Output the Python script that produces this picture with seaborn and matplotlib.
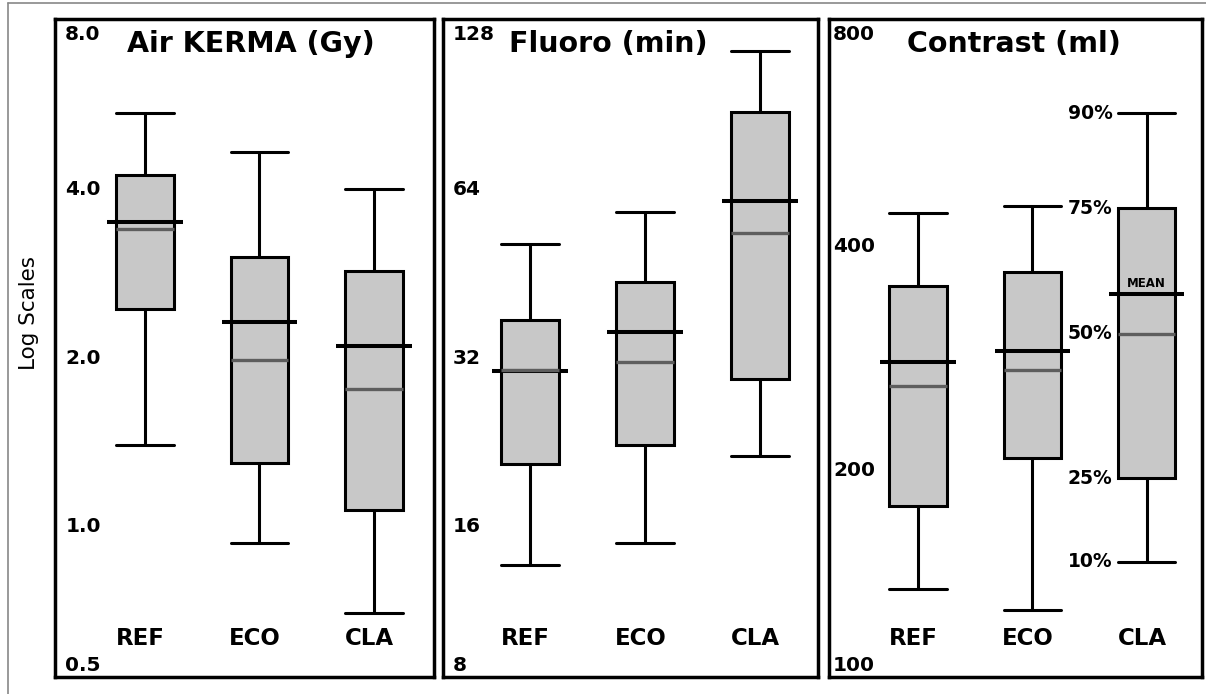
import numpy as np
import pandas as pd
import seaborn as sns
import matplotlib.pyplot as plt
from matplotlib import transforms
from matplotlib.lines import Line2D

# groups shown in every panel
groups = ["REF", "ECO", "CLA"]

# Air KERMA (Gy): 10th pct, 25th, median, 75th, 90th pct, mean
kerma_p10 = [1.40, 0.935, 0.70]
kerma_q1 = [2.45, 1.30, 1.07]
kerma_med = [3.40, 1.99, 1.76]
kerma_q3 = [4.26, 3.03, 2.86]
kerma_p90 = [5.48, 4.68, 4.01]
kerma_mean = [3.50, 2.32, 2.10]

# Fluoro (min)
fluoro_p10 = [13.7, 15.0, 21.4]
fluoro_q1 = [20.7, 22.4, 29.4]
fluoro_med = [30.5, 31.5, 53.6]
fluoro_q3 = [37.5, 43.9, 88.2]
fluoro_p90 = [51.2, 58.4, 113.4]
fluoro_mean = [30.4, 35.7, 61.1]

# Contrast (ml)
contrast_p10 = [139, 130, 151]
contrast_q1 = [179.5, 208, 195.5]
contrast_med = [260, 273, 306]
contrast_q3 = [355, 370, 451]
contrast_p90 = [444, 454, 605]
contrast_mean = [280, 290, 346]

# axis labels written inside each frame
kerma_ticks = [4.0, 2.0, 1.0]
kerma_ticklabels = ["4.0", "2.0", "1.0"]
fluoro_ticks = [64, 32, 16]
fluoro_ticklabels = ["64", "32", "16"]
contrast_ticks = [400, 200]
contrast_ticklabels = ["400", "200"]

pct_labels = ["10%", "25%", "50%", "75%", "90%"]

BOX_FILL = "#c8c8c8"
MEDIAN_GRAY = "#5e5e5e"


def draw_panel(ax, title, p10, q1, med, q3, p90, mean, ticks, ticklabels,
               top_label, bottom_label, ylim, xlim, label_x, title_x):
    # five summary values per group -> whiskers at min/max give 10th/90th pct
    df = pd.DataFrame({
        "group": np.repeat(groups, 5),
        "value": np.column_stack([p10, q1, med, q3, p90]).ravel(),
    })
    sns.boxplot(data=df, x="group", y="value", order=groups, whis=(0, 100),
                width=0.5, color=BOX_FILL, saturation=1, linecolor="black",
                linewidth=2.2, log_scale=2, capwidths=0.5,
                medianprops={"color": MEDIAN_GRAY, "linewidth": 2.4},
                ax=ax)

    # mean lines, a bit wider than the boxes, under the median line
    xs = np.arange(len(groups))
    ax.hlines(mean, xs - 0.33, xs + 0.33, color="black", linewidth=2.9,
              zorder=2.05)

    ax.set_xlim(*xlim)
    ax.set_ylim(*ylim)
    ax.set_xlabel("")
    ax.set_ylabel("")
    ax.tick_params(which="both", left=False, labelleft=False,
                   bottom=False, labelbottom=False)
    for sp in ax.spines.values():
        sp.set_visible(True)
        sp.set_color("black")
        sp.set_linewidth(2.5)

    trans = transforms.blended_transform_factory(ax.transAxes, ax.transData)
    for t, lab in zip(ticks, ticklabels):
        ax.text(label_x, t, lab, transform=trans, ha="left", va="center",
                fontsize=14.5, fontweight="bold")
    ax.text(label_x, 0.977, top_label, transform=ax.transAxes, ha="left",
            va="center", fontsize=14.5, fontweight="bold")
    ax.text(label_x, 0.018, bottom_label, transform=ax.transAxes, ha="left",
            va="center", fontsize=14.5, fontweight="bold")

    for i, g in enumerate(groups):
        ax.text(i - 0.04, 0.059, g, transform=ax.get_xaxis_transform(),
                ha="center", va="center", fontsize=16.5, fontweight="bold")

    ax.text(title_x, 0.962, title, transform=ax.transAxes, ha="center",
            va="center", fontsize=20.5, fontweight="bold")


sns.set_theme(style="white")
plt.rcParams["font.family"] = ["DejaVu Sans"]
plt.rcParams["text.color"] = "black"

fig = plt.figure(figsize=(12.06, 6.94), dpi=100)
W, H = 1206, 694
bottom = 1 - 677 / H
height = 658 / H
ax1 = fig.add_axes([55 / W, bottom, 379 / W, height])
ax2 = fig.add_axes([443 / W, bottom, 375 / W, height])
ax3 = fig.add_axes([829 / W, bottom, 373 / W, height])

draw_panel(ax1, "Air KERMA (Gy)", kerma_p10, kerma_q1, kerma_med, kerma_q3,
           kerma_p90, kerma_mean, kerma_ticks, kerma_ticklabels, "8.0", "0.5",
           (0.539, 8.08), (-0.786, 2.524), 0.027, 0.518)
draw_panel(ax2, "Fluoro (min)", fluoro_p10, fluoro_q1, fluoro_med, fluoro_q3,
           fluoro_p90, fluoro_mean, fluoro_ticks, fluoro_ticklabels, "128", "8",
           (8.63, 129.3), (-0.757, 2.504), 0.027, 0.44)
draw_panel(ax3, "Contrast (ml)", contrast_p10, contrast_q1, contrast_med,
           contrast_q3, contrast_p90, contrast_mean, contrast_ticks,
           contrast_ticklabels, "800", "100",
           (105.7, 810), (-0.779, 2.484), 0.011, 0.496)

# percentile key next to the CLA contrast box
cla_stats = [contrast_p10[2], contrast_q1[2], contrast_med[2],
             contrast_q3[2], contrast_p90[2]]
for v, lab in zip(cla_stats, pct_labels):
    ax3.text(1.70, v, lab, ha="right", va="center", fontsize=13.5,
             fontweight="bold")
ax3.annotate("MEAN", (2, contrast_mean[2]), xytext=(0, 3),
             textcoords="offset points", ha="center", va="bottom",
             fontsize=8.5, fontweight="bold")

fig.text(29 / W, 1 - 313 / H, "Log Scales", rotation=90, ha="center",
         va="center", fontsize=15.5)

# thin grey border of the original figure
fig.add_artist(Line2D([8 / W, 8 / W], [0, 1 - 3 / H], color="#888888",
                      linewidth=1.2, transform=fig.transFigure))
fig.add_artist(Line2D([8 / W, 1], [1 - 3 / H, 1 - 3 / H], color="#888888",
                      linewidth=1.2, transform=fig.transFigure))

fig.savefig("out.png", dpi=100)
